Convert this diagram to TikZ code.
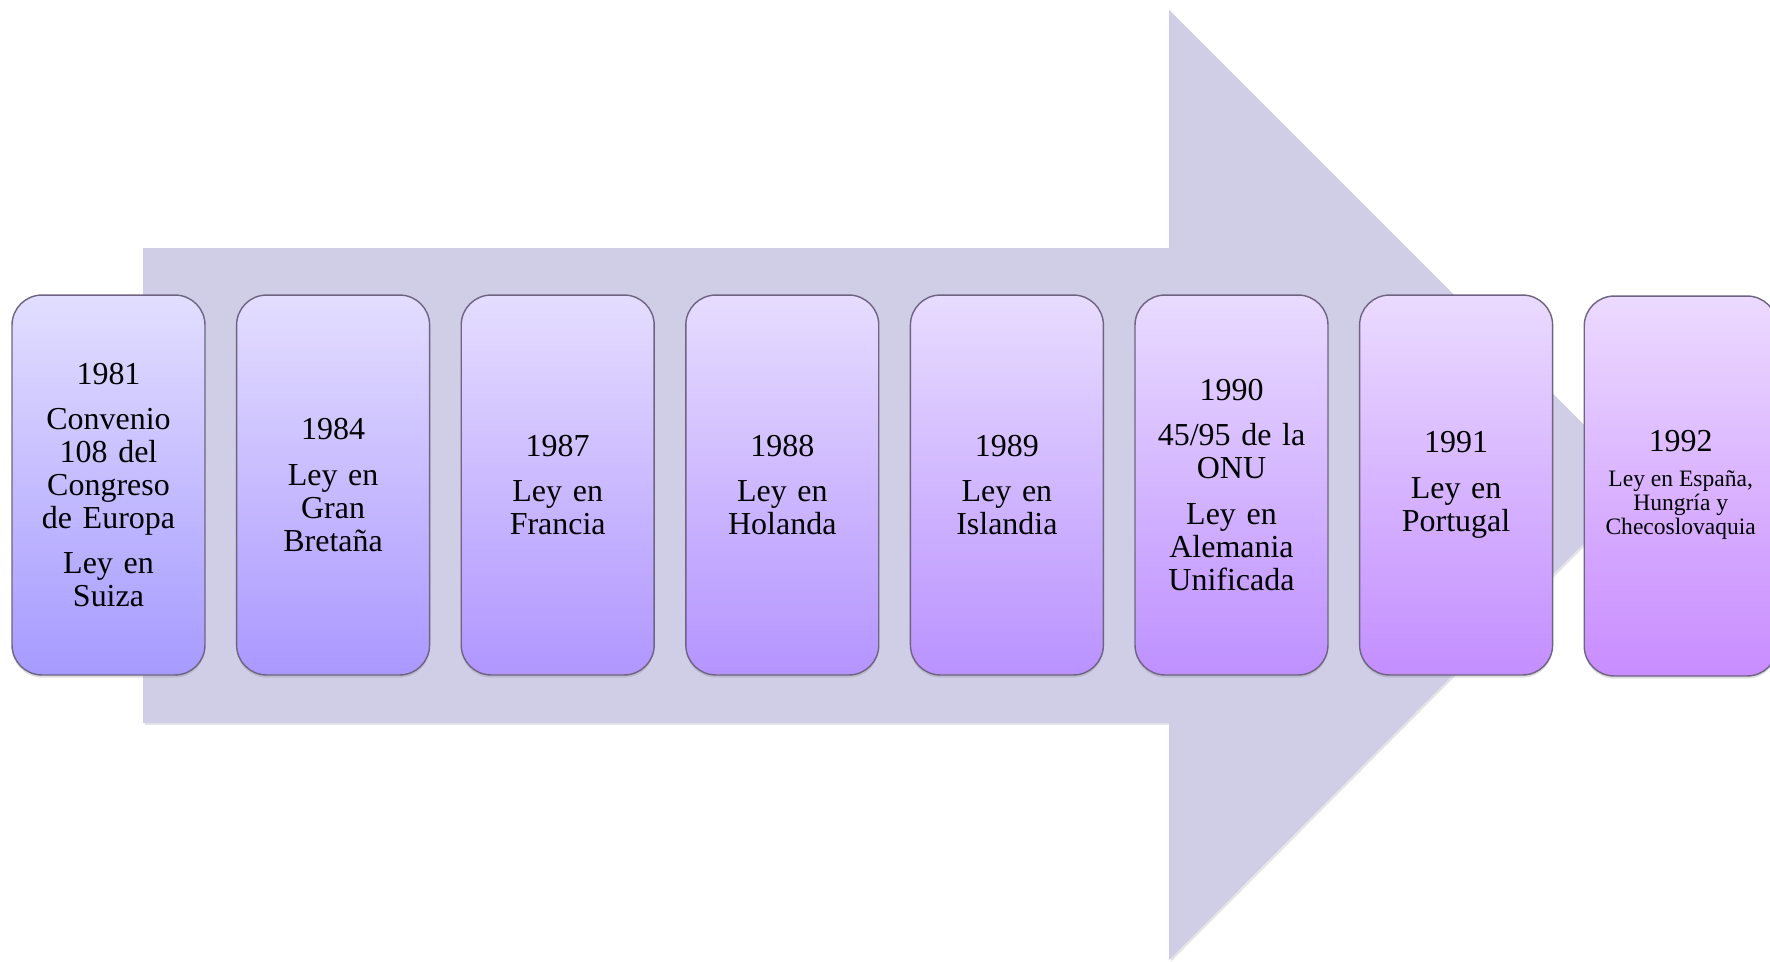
\documentclass[tikz,border=0pt]{standalone}
\usepackage{fontspec}
\setmainfont{Liberation Serif}
\usetikzlibrary{shadows}

\definecolor{arrowfill}{RGB}{208,205,230}
\definecolor{topL}{RGB}{226,222,255}
\definecolor{topR}{RGB}{236,218,255}
\definecolor{botL}{RGB}{166,154,255}
\definecolor{botR}{RGB}{200,140,255}
\definecolor{edgegray}{RGB}{110,100,130}
\definecolor{bggray}{RGB}{239,239,239}
\pgfdeclareradialshading{bgshade}{\pgfpoint{0bp}{0bp}}{color(0bp)=(white); color(38bp)=(white); color(62bp)=(bggray); color(90bp)=(bggray)}
\newcommand{\pgap}{\\[7pt]}

\begin{document}
\begin{tikzpicture}[x=0.02cm,y=-0.02cm,
    yearbox/.style={rounded corners=0.6cm, minimum width=3.86cm, minimum height=7.6cm,
        draw=edgegray, line width=0.8pt, align=center, text width=3.6cm,
        font=\fontsize{18.2}{18.8}\selectfont,
        drop shadow={opacity=0.25, shadow xshift=0pt, shadow yshift=-1.5pt}},
    tint/.style={top color=topR!#1!topL, bottom color=botR!#1!botL}]
    % Background
    \useasboundingbox (0,0) rectangle (1770,961);
    \shade[shading=bgshade] (0,0) rectangle (1770,961);

    % Big arrow
    \fill[arrowfill, drop shadow={opacity=0.2, shadow xshift=1pt, shadow yshift=-1pt}]
        (143,248) -- (1169,248) -- (1169,10) -- (1643,484) -- (1169,960)
        -- (1169,723) -- (143,723) -- cycle;

    % Years
    \node[yearbox, tint=0]   (y1981) at (108.5,485) {1981\pgap Convenio\\108 del\\Congreso\\de Europa\pgap Ley en\\Suiza};
    \node[yearbox, tint=14]  (y1984) at (333.1,485) {1984\pgap Ley en\\Gran\\Bretaña};
    \node[yearbox, tint=29]  (y1987) at (557.7,485) {1987\pgap Ley en\\Francia};
    \node[yearbox, tint=43]  (y1988) at (782.3,485) {1988\pgap Ley en\\Holanda};
    \node[yearbox, tint=57]  (y1989) at (1006.9,485) {1989\pgap Ley en\\Islandia};
    \node[yearbox, tint=71]  (y1990) at (1231.5,485) {1990\pgap 45/95 de la\\ONU\pgap Ley en\\Alemania\\Unificada};
    \node[yearbox, tint=86]  (y1991) at (1456.1,485) {1991\pgap Ley en\\Portugal};
    \node[yearbox, tint=100] (y1992) at (1680.7,486) {1992\\[1pt]{\fontsize{13.4}{13.6}\selectfont\spaceskip=0pt\xspaceskip=0pt\begin{tabular}[t]{@{}c@{}}Ley en España,\\Hungría y\\Checoslovaquia\end{tabular}}};
\end{tikzpicture}
\end{document}
